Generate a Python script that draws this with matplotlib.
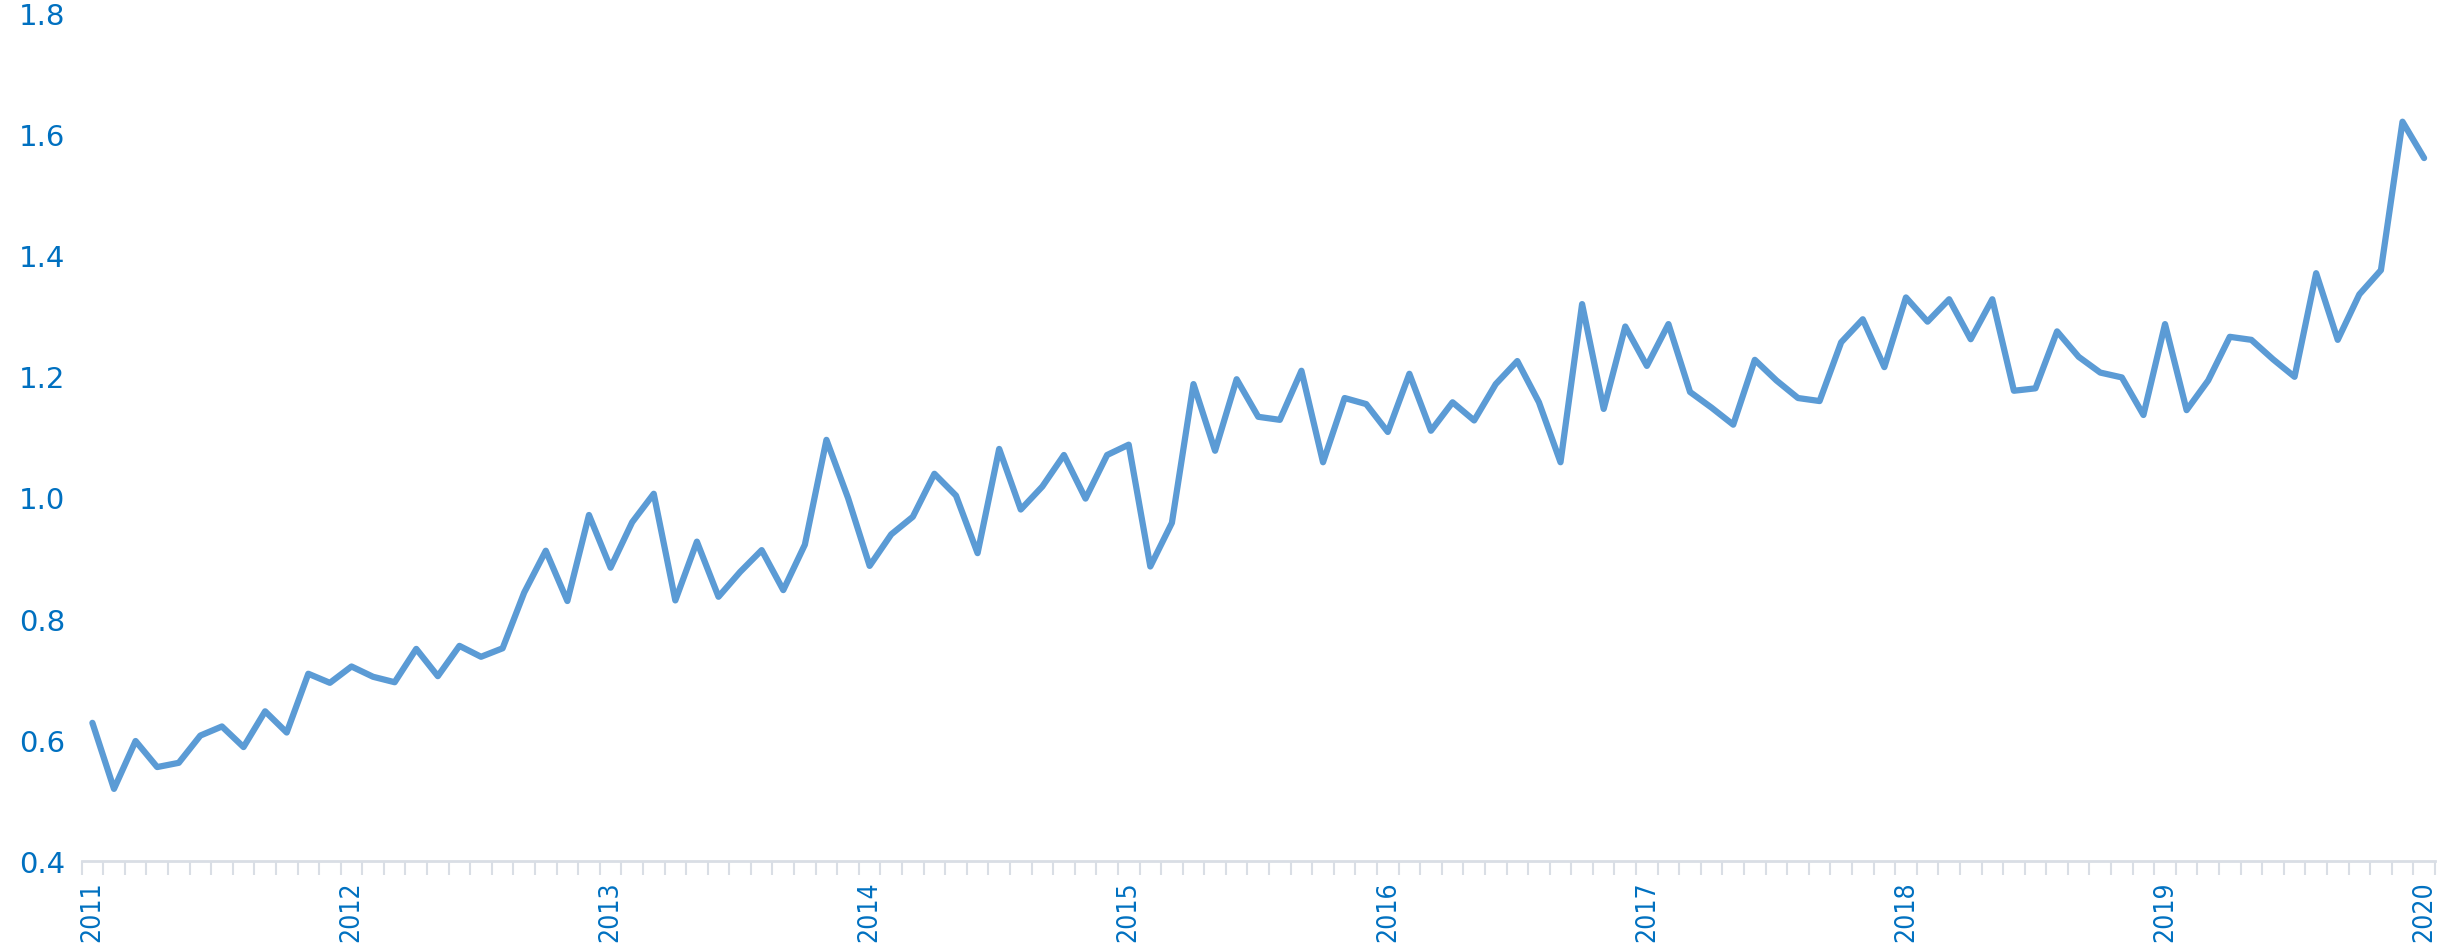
import matplotlib
matplotlib.use("Agg")
import matplotlib.pyplot as plt
import numpy as np

# monthly values, Jan 2011 .. Jan 2020
values = [
    0.628, 0.519, 0.598, 0.555, 0.562, 0.607, 0.622, 0.588, 0.647, 0.612, 0.709, 0.694,
    0.721, 0.704, 0.695, 0.750, 0.705, 0.755, 0.737, 0.751, 0.843, 0.912, 0.829, 0.971,
    0.884, 0.959, 1.006, 0.830, 0.927, 0.836, 0.877, 0.913, 0.847, 0.922, 1.095, 0.999,
    0.887, 0.939, 0.968, 1.039, 1.003, 0.908, 1.080, 0.980, 1.018, 1.070, 0.998, 1.070,
    1.087, 0.886, 0.958, 1.187, 1.077, 1.195, 1.133, 1.128, 1.209, 1.058, 1.164, 1.154,
    1.108, 1.204, 1.110, 1.157, 1.127, 1.187, 1.225, 1.157, 1.058, 1.319, 1.146, 1.282,
    1.217, 1.286, 1.174, 1.148, 1.120, 1.227, 1.193, 1.164, 1.159, 1.256, 1.294, 1.215,
    1.330, 1.290, 1.327, 1.261, 1.327, 1.176, 1.180, 1.274, 1.232, 1.206, 1.198, 1.136,
    1.286, 1.144, 1.193, 1.265, 1.260, 1.228, 1.199, 1.370, 1.260, 1.335, 1.375, 1.620,
    1.560,
]
years = ["2011", "2012", "2013", "2014", "2015", "2016", "2017", "2018", "2019", "2020"]
y_ticks = [0.4, 0.6, 0.8, 1.0, 1.2, 1.4, 1.6, 1.8]

x = np.arange(len(values))
label_color = "#0070C0"
axis_color = "#D9DEE5"

fig = plt.figure(figsize=(24.58, 9.53), dpi=100)
ax = fig.add_axes([0.0332, 0.0955, 0.9574, 0.8902])

ax.plot(x, values, color="#5B9BD5", linewidth=4.5, solid_joinstyle="round",
        solid_capstyle="round")

ax.set_xlim(-0.5, len(values) - 0.5)
ax.set_ylim(0.4, 1.8)

# year labels every 12 months, tick marks on the month boundaries
ax.set_xticks(np.arange(0, len(values), 12))
ax.set_xticklabels(years, rotation=90, color=label_color, fontsize=19,
                   family="DejaVu Sans", fontstretch="condensed")
ax.set_xticks(np.arange(-0.5, len(values), 1), minor=True)
ax.tick_params(axis="x", which="major", length=0, pad=14)
ax.tick_params(axis="x", which="minor", length=10, width=1.5, color=axis_color)

ax.set_yticks(y_ticks)
ax.set_yticklabels([f"{v:.1f}" for v in y_ticks], color=label_color, fontsize=21)
ax.tick_params(axis="y", length=0, pad=12)

for side in ["top", "right", "left"]:
    ax.spines[side].set_visible(False)
ax.spines["bottom"].set_color(axis_color)
ax.spines["bottom"].set_linewidth(2)

plt.savefig("out.png", dpi=100)
